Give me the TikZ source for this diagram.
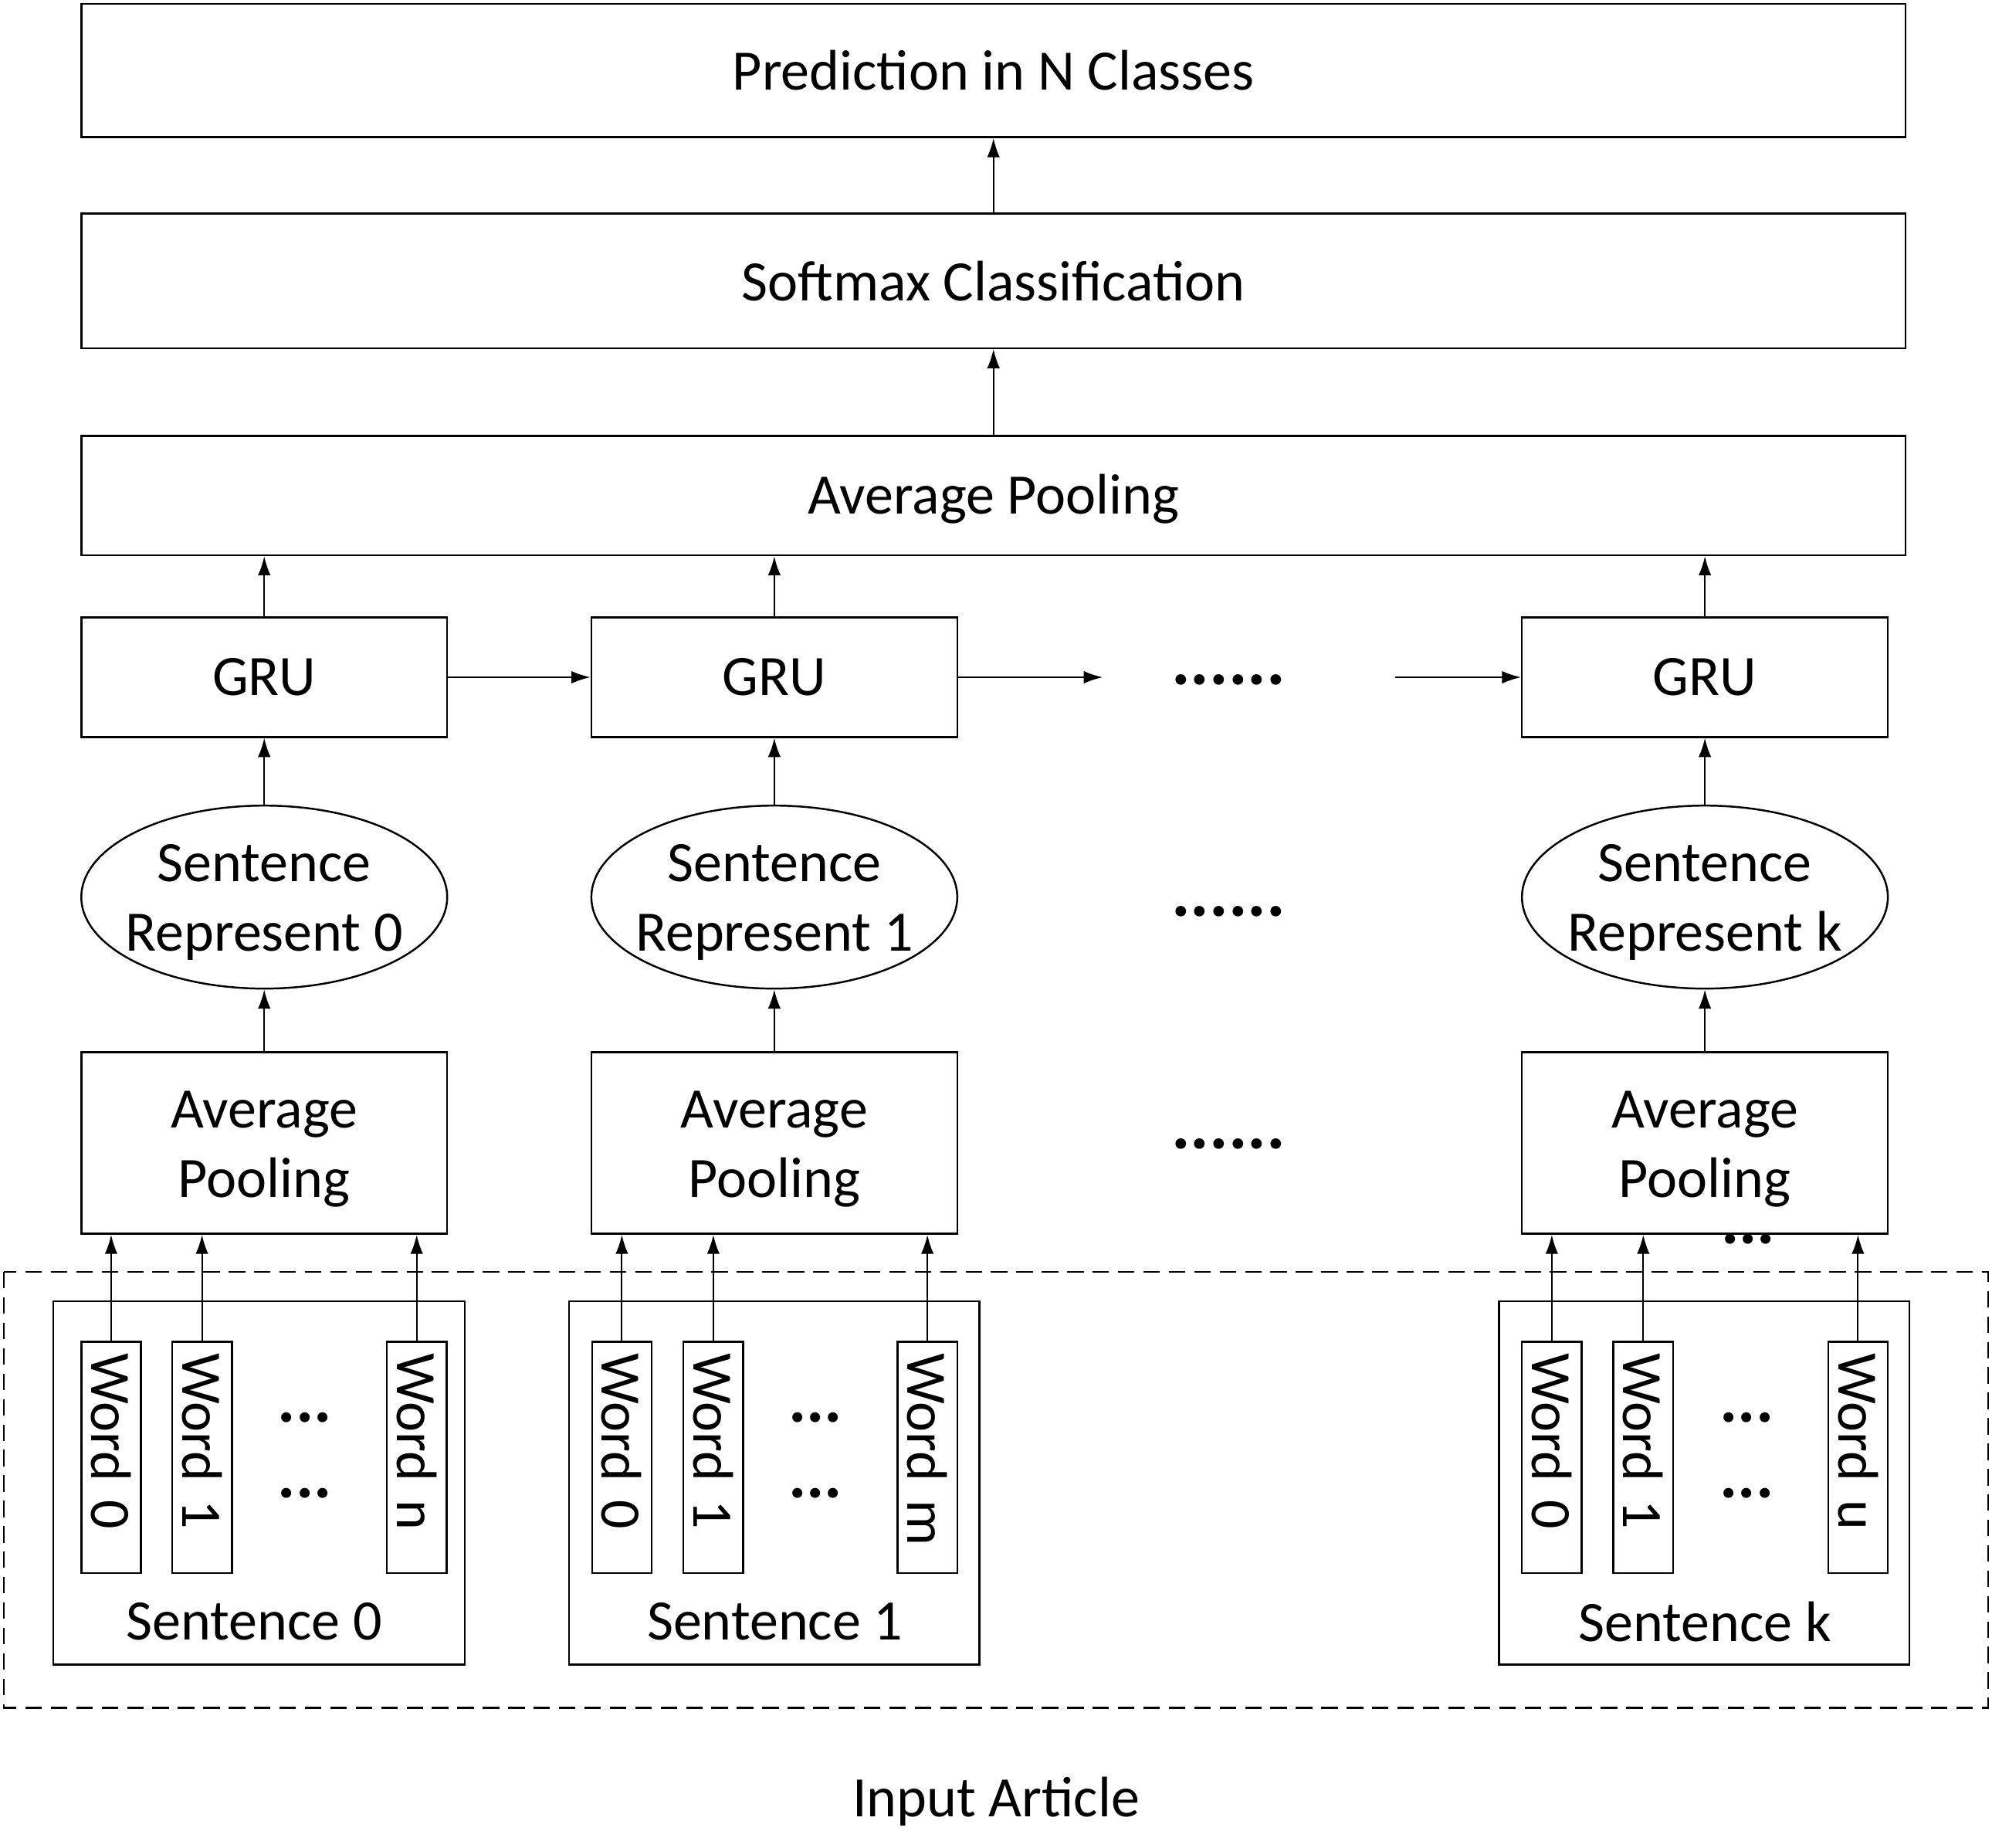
\documentclass[tikz,border=0pt]{standalone}
\usepackage{fontspec}
\setmainfont{Carlito}
\usetikzlibrary{shapes.geometric,arrows.meta}
\begin{document}
\begin{tikzpicture}[x=1pt,y=1pt,
  txt/.style={font=\fontsize{45}{55}\selectfont},
  box/.style={draw, line width=1.5pt, rectangle, inner sep=0pt, txt, align=center},
  ell/.style={draw, line width=1.5pt, ellipse, inner sep=0pt, minimum width=288pt, minimum height=144pt},
  word/.style={draw, line width=1.5pt, rectangle, rotate=-90, minimum height=47pt, text width=164pt, inner xsep=9pt, inner ysep=0pt, align=left, txt},
  arr/.style={-{Latex[length=15pt,width=10pt]}, line width=1.2pt},
  lbl/.style={txt, inner sep=0pt, align=center},
  dots/.style={font=\fontsize{56}{60}\selectfont\bfseries, inner sep=0pt, anchor=base},
  sdots/.style={font=\fontsize{53}{60}\selectfont\bfseries, inner sep=0pt, anchor=base}
]
\useasboundingbox (0,0) rectangle (1568,-1454);

% top layers
\node[box, minimum width=1436pt, minimum height=105pt] (pred) at (782,-55.5) {Prediction in N Classes};
\node[box, minimum width=1436pt, minimum height=106pt] (soft) at (782,-221) {Softmax Classification};
\node[box, minimum width=1436pt, minimum height=94pt, label={[lbl, yshift=-3pt]center:Average Pooling}] (apool) at (782,-390) {};

% GRUs
\node[box, minimum width=288pt, minimum height=94pt] (gru0) at (208,-533) {GRU};
\node[box, minimum width=288pt, minimum height=94pt] (gru1) at (609.5,-533) {GRU};
\node[box, minimum width=288pt, minimum height=94pt] (gruk) at (1342,-533) {GRU};

% sentence representations
\node[ell, label={[lbl, yshift=-4pt]center:Sentence\\Represent 0}] (rep0) at (208,-706) {};
\node[ell, label={[lbl, yshift=-4pt]center:Sentence\\Represent 1}] (rep1) at (609.5,-706) {};
\node[ell, label={[lbl, yshift=-4pt]center:Sentence\\Represent k}] (repk) at (1342,-706) {};

% small pooling
\node[box, fill=white, minimum width=288pt, minimum height=143pt, label={[lbl, yshift=-5pt]center:Average\\Pooling}] (sp0) at (208,-899.5) {};
\node[box, fill=white, minimum width=288pt, minimum height=143pt, label={[lbl, yshift=-5pt]center:Average\\Pooling}] (sp1) at (609.5,-899.5) {};
\node[box, fill=white, minimum width=288pt, minimum height=143pt, label={[lbl, yshift=-5pt]center:Average\\Pooling}] (spk) at (1342,-899.5) {};

% partial dots under last pooling box
\node[sdots, text height=7pt, text depth=0pt] (pdots) at (1376,-979) {...};

% horizontal dots
\node[dots] (d1) at (967,-539) {......};
\node[dots] (d2) at (967,-721) {......};
\node[dots] (d3) at (967,-904) {......};

% dashed input region
\draw[line width=1.3pt, dash pattern=on 13pt off 7pt] (3,-1001) rectangle (1565,-1344);

% sentence boxes
\node[box, minimum width=324pt, minimum height=286pt] (s0) at (204,-1167) {};
\node[box, minimum width=323pt, minimum height=286pt] (s1) at (609.5,-1167) {};
\node[box, minimum width=323pt, minimum height=286pt] (sk) at (1341.5,-1167) {};
\node[lbl] (s0l) at (200,-1276) {Sentence 0};
\node[lbl] (s1l) at (610,-1276) {Sentence 1};
\node[lbl] (skl) at (1342,-1276) {Sentence k};

% words
\node[word] (w00) at (87.5,-1147) {Word 0};
\node[word] (w01) at (159,-1147) {Word 1};
\node[word] (w0n) at (328,-1147) {Word n};
\node[word] (w10) at (489.5,-1147) {Word 0};
\node[word] (w11) at (561.5,-1147) {Word 1};
\node[word] (w1m) at (730,-1147) {Word m};
\node[word] (wk0) at (1221.5,-1147) {Word 0};
\node[word] (wk1) at (1293.5,-1147) {Word 1};
\node[word] (wku) at (1462.5,-1147) {Word u};

% dots inside sentence boxes
\node[sdots] (e0a) at (240,-1119) {...};
\node[sdots] (e0b) at (240,-1179) {...};
\node[sdots] (e1a) at (642,-1119) {...};
\node[sdots] (e1b) at (642,-1179) {...};
\node[sdots] (eka) at (1375,-1119) {...};
\node[sdots] (ekb) at (1375,-1179) {...};

\node[lbl] (input) at (784,-1418) {Input Article};

% arrows: words -> pooling
\foreach \w/\p in {w00/sp0, w01/sp0, w0n/sp0, w10/sp1, w11/sp1, w1m/sp1, wk0/spk, wk1/spk, wku/spk}
  \draw[arr] (\w.west) -- (\w.west |- \p.south);

% pooling -> representation -> GRU -> big pooling
\foreach \i in {0,1,k} {
  \draw[arr] (sp\i.north) -- (rep\i.south);
  \draw[arr] (rep\i.north) -- (gru\i.south);
  \draw[arr] (gru\i.north) -- (gru\i.north |- apool.south);
}

% GRU chain
\coordinate (c1) at (868,-533);
\coordinate (c2) at (1098,-533);
\draw[arr] (gru0.east) -- (gru1.west);
\draw[arr] (gru1.east) -- (c1);
\draw[arr] (c2) -- (gruk.west);

% top chain
\draw[arr] (apool.north) -- (soft.south);
\draw[arr] (soft.north) -- (pred.south);
\end{tikzpicture}
\end{document}
